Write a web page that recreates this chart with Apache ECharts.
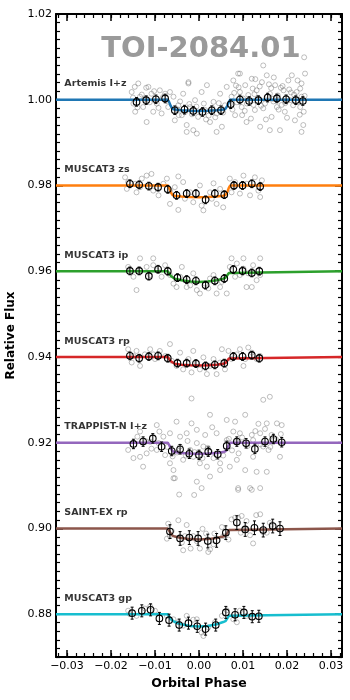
<!DOCTYPE html>
<html>
<head>
<meta charset="utf-8">
<script src="https://cdn.jsdelivr.net/npm/echarts@6/dist/echarts.min.js"></script>
<style>
  html, body { margin: 0; padding: 0; background: #fff; }
  #chart { width: 350px; height: 700px; }
</style>
</head>
<body>
<div id="chart"></div>
<script>
// phases are in units of 1e-3, flux in ppt relative to each light curve's offset
const names = ["Artemis I+z", "MUSCAT3 zs", "MUSCAT3 ip", "MUSCAT3 rp", "TRAPPIST-N I+z", "SAINT-EX rp", "MUSCAT3 gp"];
const offsets = [1.00, 0.98, 0.96, 0.94, 0.92, 0.90, 0.88];
const colors = ["#1f77b4", "#ff7f0e", "#2ca02c", "#d62728", "#9467bd", "#8c564b", "#17becf"];
const binErr = [1.0, 0.9, 0.9, 0.9, 1.1, 1.6, 1.4];

const xMajor = [-0.03, -0.02, -0.01, 0, 0.01, 0.02, 0.03];
const yMajor = [0.88, 0.90, 0.92, 0.94, 0.96, 0.98, 1.00, 1.02];

// transit models
const modelPhase = [-32.5, -7.1, -6.8, -6.4, -6.0, -5.5, -4, -2, 0, 2, 4, 5.5, 6.0, 6.4, 6.8, 7.1, 32.5];
const modelArtemis = [0, 0, -0.5, -1.5, -2.15, -2.3, -2.45, -2.55, -2.6, -2.55, -2.45, -2.3, -2.15, -1.5, -0.5, 0, 0];
const modelZs = [0, 0, -0.5, -1.6, -2.25, -2.4, -2.55, -2.7, -2.75, -2.7, -2.55, -2.4, -2.25, -1.6, -0.5, 0, 0];
const modelIp = [0, 0, -0.4, -1.1, -1.55, -1.75, -2.1, -2.4, -2.5, -2.4, -2.1, -1.75, -1.55, -1.1, -0.4, 0, 0];
const modelRp = [0, 0, -0.35, -1.0, -1.45, -1.6, -1.8, -1.95, -2.0, -1.95, -1.8, -1.6, -1.45, -1.0, -0.35, 0, 0];
const modelTrappist = [0, 0, -0.5, -1.4, -2.0, -2.2, -2.4, -2.55, -2.6, -2.55, -2.4, -2.2, -2.0, -1.4, -0.5, 0, 0];
const modelSaint = [0, 0, -0.4, -1.2, -1.7, -1.9, -2.25, -2.5, -2.6, -2.5, -2.25, -1.9, -1.7, -1.2, -0.4, 0, 0];
const modelGp = [0, 0, -0.4, -1.2, -1.65, -1.85, -2.35, -2.75, -2.9, -2.75, -2.35, -1.85, -1.65, -1.2, -0.4, 0, 0];

// binned points [phase, flux]
const binArtemis = [[-14.2,-0.5],[-12.0,-0.1],[-9.8,0.1],[-7.7,0.3],[-5.5,-2.45],[-3.3,-2.3],[-1.3,-2.6],[0.8,-2.85],[2.9,-2.45],[5.0,-2.45],[7.2,-1.05],[9.3,0.05],[11.4,-0.3],[13.5,-0.1],[15.6,0.5],[17.7,0.3],[19.8,0.1],[22.0,-0.1],[23.6,-0.3]];
const binZs = [[-15.7,0.4],[-13.6,0.15],[-11.4,-0.15],[-9.3,-0.4],[-7.1,-0.9],[-5.1,-2.3],[-2.8,-1.9],[-0.7,-1.9],[1.5,-3.35],[3.6,-1.9],[5.75,-2.15],[7.95,0],[9.9,0],[12.0,0.4],[13.9,-0.25]];
const binIp = [[-15.7,0.07],[-13.6,0.07],[-11.4,-1.15],[-9.3,0.45],[-7.1,0],[-4.9,-1.5],[-2.8,-1.95],[-0.7,-2.25],[1.5,-3.25],[3.6,-2.25],[5.75,-1.7],[7.8,0.4],[9.9,0.07],[12.0,-0.4],[13.7,0]];
const binRp = [[-15.7,0.25],[-13.6,-0.3],[-11.4,0.1],[-9.3,0.25],[-7.1,-0.3],[-4.9,-1.45],[-2.8,-1.45],[-0.7,-1.55],[1.5,-2.1],[3.6,-1.85],[5.75,-1.45],[7.8,0.1],[9.9,0.1],[12.0,0.4],[13.7,-0.3]];
const binTrappist = [[-14.9,-0.3],[-12.7,0.25],[-10.5,1.0],[-8.5,-0.95],[-6.2,-1.95],[-4.3,-1.55],[-2.2,-2.6],[0,-2.85],[2.1,-2.1],[4.25,-2.7],[6.3,-0.75],[8.6,0.25],[10.7,-0.15],[12.7,-1.45],[15.0,0.25],[16.9,0.85],[18.8,0.1]];
const binSaint = [[-6.6,-0.75],[-4.3,-2.35],[-2.2,-2.15],[-0.2,-2.35],[2.0,-2.95],[4.0,-2.8],[6.1,-1.0],[8.6,1.35],[10.5,-0.25],[12.6,0.15],[14.6,-0.4],[16.75,0.55],[18.4,-0.05]];
const binGp = [[-15.2,0.23],[-13.0,0.77],[-11.0,1.0],[-9.0,-1.0],[-6.8,-1.4],[-4.5,-2.55],[-2.4,-2.1],[-0.4,-2.85],[1.5,-3.5],[3.8,-2.55],[6.1,0.4],[8.2,-0.15],[10.2,0.4],[12.1,-0.6],[13.6,-0.5]];

// unbinned points [phase, flux]
const rawArtemis = [[-15.3,1.8],[-14.9,-0.9],[-14.5,-2.8],[-13.8,3.8],[-13.4,0.7],[-12.7,-1.7],[-11.9,-5.2],[-11.5,3.0],[-10.8,1.4],[-10.4,-2.8],[-9.6,-0.9],[-8.9,2.2],[-8.5,-3.2],[-7.7,1.4],[-7.0,-1.7],[-6.6,1.8],
  [-15.0,0.5],[-14.0,-1.8],[-13.0,1.2],[-12.3,0.1],[-11.2,-0.6],[-10.2,2.0],[-9.2,-1.9],[-8.2,0.6],[-7.4,-0.3],[-12.0,2.8],[-14.6,3.0],
  [-5.8,0.7],[-5.5,-4.8],[-4.7,-1.3],[-3.9,-3.6],[-3.6,1.4],[-2.8,-5.9],[-2.4,3.8],[-2.0,-1.7],[-1.3,-7.1],[-0.9,-0.1],[-0.2,-4.0],[0.6,1.8],[1.4,-2.4],[1.8,3.4],[2.5,-5.2],[3.3,-0.5],[4.0,-3.2],[4.8,1.4],[5.2,-6.3],[5.9,-1.3],[6.3,3.0],
  [-5.0,-2.2],[-4.3,-0.4],[-3.2,-2.9],[-1.6,-3.4],[-0.6,-1.6],[0.3,-2.8],[1.1,-0.9],[2.2,-3.7],[3.0,-1.9],[3.7,-4.1],[4.5,-0.8],[5.5,-3.0],[-2.2,-1.0],[1.6,-4.6],[-4.6,-3.6],
  [7.4,0.7],[7.8,4.5],[8.2,-3.6],[8.9,6.1],[9.3,1.8],[9.7,-1.7],[10.5,3.4],[10.8,-5.2],[11.6,-0.1],[12.0,4.9],[12.7,-2.4],[13.1,2.2],[13.9,-6.3],[14.3,4.1],[15.0,-0.9],[15.4,5.7],[16.1,1.4],[16.5,-4.0],[17.3,3.4],[17.7,-1.7],[18.4,-7.1],[19.2,2.2],[19.5,-2.8],[20.3,4.5],[20.7,-0.1],[21.1,5.7],[21.8,-4.8],[22.2,1.8],[23.0,-1.7],[23.3,3.8],[23.7,-5.9],[24.1,6.1],[23.3,0.7],
  [7.0,-1.0],[8.0,1.6],[8.6,-0.6],[9.0,2.9],[10.0,0.3],[10.4,-2.6],[11.2,1.1],[12.2,2.6],[12.4,-1.2],[13.4,0.4],[13.8,3.1],[14.6,-2.0],[15.6,0.9],[16.4,2.7],[16.9,-0.4],[17.9,1.0],[18.8,-1.2],[19.0,3.2],[19.8,0.5],[20.5,2.4],[21.4,-1.3],[21.6,1.2],[22.6,-0.5],[23.0,2.6],[23.8,-2.8],[24.0,0.9],[17.0,5.2],[12.8,4.8],[9.8,-3.6],[20.0,-4.2],[15.2,-4.6],[22.4,4.5],[11.8,-4.4],
  [23.9,9.9],[14.6,8.0],[9.3,6.1],[-2.4,4.1],[-2.8,-7.5],[-0.5,-7.9],[4.0,-7.5],[16.1,-7.1],[23.3,-7.5],
  [8.4,3.3],[10.9,-0.9],[12.6,1.3],[14.1,-1.4],[15.9,3.6],[18.1,-2.3],[18.6,2.8],[20.9,1.7],[22.9,-3.5],[7.6,-2.3],[19.6,-0.8],[16.7,0.2]];
const rawZs = [[-16.8,1.9],[-16.1,0.8],[-16.4,-0.8],[-14.5,0.4],[-14.2,-1.6],[-13.0,1.6],[-11.9,2.3],[-10.8,2.7],[-10.4,-1.2],[-9.2,-2.3],[-8.1,0.4],[-7.3,1.6],[-6.6,-1.2],[-6.6,-4.3],[-5.5,-0.4],[-4.7,-5.7],[-3.6,0.8],[-3.2,-3.1],[-2.0,-1.6],[-1.3,-3.9],[0.2,0],[0.6,-4.7],[1.0,-5.8],[2.5,-1.6],[2.9,-3.1],[4.0,-4.3],[4.8,-0.8],[5.5,-5.1],[7.0,1.6],[7.4,-1.6],[8.2,0.8],[9.3,-1.9],[10.1,2.3],[10.8,0.4],[11.6,-2.3],[12.7,1.9],[13.5,-1.2],[14.3,1.2],[13.9,-2.7],[-13.4,-0.4],[7.8,-0.4],[-4.7,2.1],[3.3,0.5]];
const rawIp = [[-16.1,1.0],[-14.9,-1.3],[-14.2,-4.4],[-13.4,0.2],[-11.9,1.0],[-11.1,-0.9],[-10.4,1.4],[-9.6,0.2],[-8.5,-1.3],[-7.7,1.4],[-6.6,-0.9],[-5.8,-2.9],[-5.1,-3.7],[-4.3,-1.3],[-3.9,1.0],[-3.2,-2.1],[-2.8,-3.7],[-2.0,-3.3],[-1.3,-0.5],[-0.5,-4.4],[0.2,-5.2],[1.4,-2.9],[2.1,-4.0],[2.5,-1.7],[3.3,-0.9],[4.0,-5.2],[4.8,-3.7],[5.2,-2.5],[6.3,-5.2],[7.0,1.0],[8.2,-1.3],[8.6,1.8],[9.3,-0.9],[10.1,0.6],[10.8,-3.7],[11.2,-0.5],[12.0,-3.7],[12.3,1.4],[13.1,-2.1],[13.9,-0.9],[-13.4,3.0],[-10.4,3.0],[7.4,3.0],[10.1,3.0],[13.9,3.0]];
const rawRp = [[-16.1,1.8],[-15.3,-1.3],[-14.9,0.2],[-14.2,1.4],[-13.4,-2.1],[-12.3,0.6],[-11.1,1.8],[-10.4,0.6],[-10.0,-0.5],[-8.9,1.4],[-7.7,0.2],[-6.6,3.0],[-6.2,-0.9],[-5.1,-2.1],[-4.3,1.0],[-3.6,-2.9],[-2.4,-0.5],[-1.7,-3.6],[-1.3,1.4],[-0.5,-1.3],[0.2,-2.9],[1.0,-0.1],[1.8,-4.0],[2.5,-2.1],[3.3,-0.5],[4.0,-4.0],[4.8,-1.3],[5.2,1.8],[5.9,-2.9],[6.7,1.4],[7.4,-0.5],[8.6,0.6],[9.3,1.8],[10.1,-2.1],[10.5,-0.5],[11.2,2.2],[12.0,1.0],[13.1,-0.5],[13.9,0.2]];
const rawTrappist = [[2.5,6.5],[10.5,6.5],[14.6,10.0],[-9.6,4.1],[-5.1,4.9],[-1.7,4.5],[-0.5,3.0],[6.3,5.3],[8.2,4.9],[15.4,4.5],[17.7,4.5],[18.8,4.1],[-13.4,2.6],[-8.1,1.4],[-6.6,2.2],[-4.3,1.4],[-2.8,2.2],[1.4,1.8],[4.0,2.2],[7.8,2.6],[9.3,2.2],[12.0,1.8],[13.9,2.2],[16.5,1.8],
  [-16.1,-1.7],[-14.9,-3.6],[-11.9,-2.5],[-9.6,-1.7],[-6.6,-4.8],[-5.8,-6.4],[-3.6,-4.0],[-1.3,-3.3],[0.2,-4.8],[1.8,-5.6],[4.8,-4.8],[3.3,-3.6],[7.0,-5.6],[8.6,-4.0],[10.5,-6.4],[12.3,-3.3],[13.1,-6.8],[15.8,-1.7],[18.4,-3.3],[-12.7,-5.6],[-5.8,-8.3],[-0.5,-9.1],[2.5,-7.9],[0.6,-10.6],[8.9,-10.6],[11.6,-10.6],[4.8,-6.4],[-2.0,-1.7],[1.0,-0.9],[8.6,0.2],[12.3,0.6],[14.6,-0.9],[-4.3,-0.9],[-9.2,-0.1],[-11.1,0.2],[6.3,0.6],[16.9,0.6],[-0.5,-0.1],[2.5,-2.1],[-7.7,-2.9],
  [-1.7,10.3],[16.1,10.7],[-13.4,-3.3],[-5.5,-8.3],[8.9,-11.0],[12.0,-11.0],[13.9,-10.6],[15.4,-6.8],
  [-14.0,1.4],[-12.0,0.3],[-10.8,-1.4],[-9.0,2.6],[-7.2,-1.0],[-5.0,-2.3],[-3.0,-3.0],[-1.0,-2.2],[0.8,-3.6],[2.0,-1.2],[3.8,-2.6],[5.5,-3.0],[6.8,0.9],[7.5,-1.8],[9.8,1.2],[11.0,-0.8],[12.8,2.7],[14.0,-0.4],[15.0,3.2],[16.2,-1.0],[17.5,0.8],[18.6,2.0],[3.0,3.6],[-2.6,0.4],[9.0,-2.5],[13.5,4.4],[-6.0,-3.2]];
const rawSaint = [[-7.0,1.1],[-7.3,-2.4],[-6.2,-0.6],[-4.7,1.9],[-3.6,-5.1],[-2.8,0.8],[-1.9,-4.7],[-1.3,-1.8],[0.2,-4.7],[0.8,-0.1],[1.6,-1.2],[2.1,-5.5],[2.5,-4.9],[3.5,-1.2],[5.2,0.3],[5.5,-1.8],[7.4,2.1],[8.2,2.5],[8.9,2.5],[10.8,1.7],[11.6,-1.6],[12.3,-3.5],[13.0,3.1],[13.9,3.3],[14.6,-0.9],[15.4,-1.0],[16.1,1.3],[16.5,0.9],[9.5,-1.0],[10.5,-0.2],[-6.6,-1.8],[-3.2,-1.8],[-0.5,-3.0],[3.3,-3.7],[6.7,-2.6],[-3.9,-3.3],[-4.5,7.9],[-1.1,7.8],[9.7,2.9]];
const rawGp = [[-16.1,0.8],[-14.2,-0.4],[-11.1,1.8],[-10.0,0.8],[-7.3,-0.4],[-5.8,-1.2],[-4.7,-1.9],[-3.6,-2.7],[-1.3,-1.3],[-0.5,-1.2],[0.6,-4.3],[1.0,-5.1],[2.1,-3.1],[3.6,-1.9],[5.2,-0.4],[6.3,0.9],[7.8,-1.2],[8.6,-1.9],[9.3,0.8],[10.8,-0.4],[12.3,-0.8],[-15.7,0],[-12.3,1.3],[-2.8,-0.4]];

const models = [modelArtemis, modelZs, modelIp, modelRp, modelTrappist, modelSaint, modelGp];
const bins = [binArtemis, binZs, binIp, binRp, binTrappist, binSaint, binGp];
const raws = [rawArtemis, rawZs, rawIp, rawRp, rawTrappist, rawSaint, rawGp];

const xMinor = [];
for (let v = -32; v <= 32; v += 2) xMinor.push(v / 1000);
const yMinor = [];
for (let v = 870; v <= 1020; v += 2) yMinor.push(v / 1000);

const fmt = (v) => v.toFixed(2).replace("-", "\u2212");
const font = "DejaVu Sans";

const series = [];
offsets.forEach((off, i) => {
  series.push({
    type: "scatter",
    z: 1,
    symbol: "circle",
    symbolSize: 5,
    itemStyle: { color: "rgba(0,0,0,0)", borderColor: "rgba(105,105,105,0.6)", borderWidth: 0.9 },
    data: raws[i].map(([p, f]) => [p / 1000, off + f / 1000])
  });
  series.push({
    type: "line",
    z: 2,
    symbol: "none",
    lineStyle: { color: colors[i], width: 2.5 },
    data: modelPhase.map((p, k) => [p / 1000, off + models[i][k] / 1000])
  });
  series.push({
    type: "custom",
    z: 3,
    data: bins[i].map(([p, f]) => [p / 1000, off + f / 1000, binErr[i] / 1000]),
    renderItem: function (params, api) {
      const x = api.value(0), y = api.value(1), e = api.value(2);
      const c = api.coord([x, y]);
      const t = api.coord([x, y + e]);
      const b = api.coord([x, y - e]);
      const st = { stroke: "#000", lineWidth: 1 };
      return {
        type: "group",
        children: [
          { type: "line", shape: { x1: c[0], y1: t[1], x2: c[0], y2: b[1] }, style: st },
          { type: "line", shape: { x1: c[0] - 1.5, y1: t[1], x2: c[0] + 1.5, y2: t[1] }, style: st },
          { type: "line", shape: { x1: c[0] - 1.5, y1: b[1], x2: c[0] + 1.5, y2: b[1] }, style: st },
          { type: "circle", shape: { cx: c[0], cy: c[1], r: 3.3 }, style: { fill: "none", stroke: "#000", lineWidth: 1.1 } }
        ]
      };
    }
  });
  series.push({
    type: "scatter",
    z: 4,
    symbolSize: 0,
    data: [[-0.0306, off + 0.0037]],
    label: {
      show: true, position: "right", distance: 0,
      formatter: names[i], fontFamily: font, fontWeight: "bold", fontSize: 9.5, color: "#000"
    }
  });
});

const axisBase = (extra) => Object.assign({
  type: "value", min: -0.0325, max: 0.0325, splitLine: { show: false }
}, extra);

const chart = echarts.init(document.getElementById("chart"));
chart.setOption({
  animation: false,
  backgroundColor: "#fff",
  textStyle: { fontFamily: font },
  title: {
    text: "TOI-2084.01", left: 196, top: 30, textAlign: "center",
    textStyle: { color: "#9a9a9a", fontSize: 29, fontWeight: "bold", fontFamily: font }
  },
  grid: { left: 56, right: 8, top: 14, bottom: 43, outerBoundsMode: "none" },
  xAxis: [
    axisBase({
      position: "bottom",
      axisLine: { show: true, onZero: false, lineStyle: { color: "#000", width: 2 } },
      axisTick: { show: true, inside: true, length: 7, customValues: xMajor, lineStyle: { color: "#000", width: 1.5 } },
      axisLabel: { customValues: xMajor, formatter: fmt, color: "#000", fontSize: 11, margin: 4, fontFamily: font },
      name: "Orbital Phase", nameLocation: "middle", nameGap: 19,
      nameTextStyle: { fontWeight: "bold", fontSize: 12.5, color: "#000", fontFamily: font }
    }),
    axisBase({
      position: "bottom",
      axisLine: { show: false, onZero: false },
      axisTick: { show: true, inside: true, length: 4, customValues: xMinor, lineStyle: { color: "#000", width: 1.2 } },
      axisLabel: { show: false }
    }),
    axisBase({
      position: "top",
      axisLine: { show: true, onZero: false, lineStyle: { color: "#000", width: 2 } },
      axisTick: { show: true, inside: true, length: 7, customValues: xMajor, lineStyle: { color: "#000", width: 1.5 } },
      axisLabel: { show: false }
    }),
    axisBase({
      position: "top",
      axisLine: { show: false, onZero: false },
      axisTick: { show: true, inside: true, length: 4, customValues: xMinor, lineStyle: { color: "#000", width: 1.2 } },
      axisLabel: { show: false }
    })
  ],
  yAxis: [
    {
      type: "value", min: 0.87, max: 1.02, position: "left", splitLine: { show: false },
      axisLine: { show: true, onZero: false, lineStyle: { color: "#000", width: 2 } },
      axisTick: { show: true, inside: true, length: 7, customValues: yMajor, lineStyle: { color: "#000", width: 1.5 } },
      axisLabel: { customValues: yMajor, formatter: fmt, color: "#000", fontSize: 11, margin: 4, fontFamily: font },
      name: "Relative Flux", nameLocation: "middle", nameGap: 30,
      nameTextStyle: { fontWeight: "bold", fontSize: 12, color: "#000", fontFamily: font }
    },
    {
      type: "value", min: 0.87, max: 1.02, position: "left", splitLine: { show: false },
      axisLine: { show: false, onZero: false },
      axisTick: { show: true, inside: true, length: 4, customValues: yMinor, lineStyle: { color: "#000", width: 1.2 } },
      axisLabel: { show: false }
    },
    {
      type: "value", min: 0.87, max: 1.02, position: "right", splitLine: { show: false },
      axisLine: { show: true, onZero: false, lineStyle: { color: "#000", width: 2 } },
      axisTick: { show: true, inside: true, length: 7, customValues: yMajor, lineStyle: { color: "#000", width: 1.5 } },
      axisLabel: { show: false }
    },
    {
      type: "value", min: 0.87, max: 1.02, position: "right", splitLine: { show: false },
      axisLine: { show: false, onZero: false },
      axisTick: { show: true, inside: true, length: 4, customValues: yMinor, lineStyle: { color: "#000", width: 1.2 } },
      axisLabel: { show: false }
    }
  ],
  series: series
});
</script>
</body>
</html>
